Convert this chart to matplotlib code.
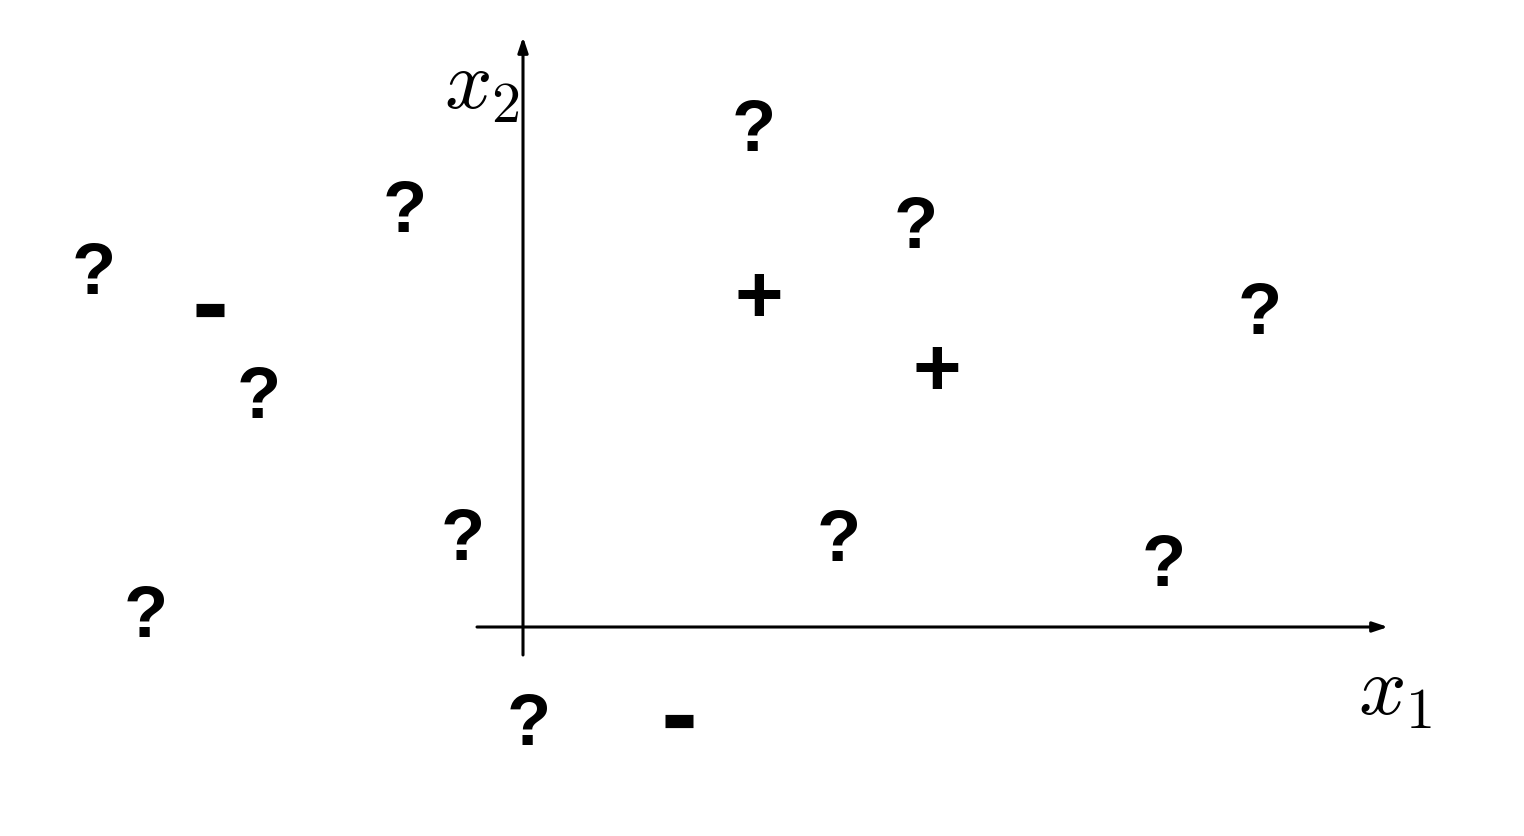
import matplotlib
matplotlib.use("Agg")
import matplotlib.pyplot as plt
from matplotlib.transforms import offset_copy

plt.rcParams['mathtext.fontset'] = 'cm'

# Unlabeled points (x1, x2), origin at axes intersection
q_x = [231, -118, 393, -429, 737, -264, -60, 316, 641, -377, 6]
q_y = [500, 419, 403, 357, 317, 233, 91, 90, 65, 14, -94]
# Positive examples
p_x = [236, 414]
p_y = [331, 258]
# Negative examples
n_x = [-313, 156]
n_y = [317, -94]

fig = plt.figure(figsize=(15.24, 8.36), dpi=100)
ax = fig.add_axes([0, 0, 1, 1])
ax.set_xlim(-523, 1524 - 523)
ax.set_ylim(627 - 836, 627)
ax.axis('off')

# axes arrows
ax.annotate('', xy=(865, 0), xytext=(-46, 0),
            arrowprops=dict(arrowstyle='-|>,head_length=0.9,head_width=0.3', lw=2.2, color='black',
                            shrinkA=0, shrinkB=0))
ax.annotate('', xy=(0, 590), xytext=(0, -28),
            arrowprops=dict(arrowstyle='-|>,head_length=0.9,head_width=0.3', lw=2.2, color='black',
                            shrinkA=0, shrinkB=0))
ax.text(-41, 542, r'$x_2$', fontsize=60, ha='center', va='center')
ax.text(872, -64, r'$x_1$', fontsize=60, ha='center', va='center')

fam = ['Liberation Sans', 'DejaVu Sans']
tr = offset_copy(ax.transData, fig=fig, x=0, y=-5, units='dots')
for x, y in zip(q_x, q_y):
    ax.text(x, y, '?', fontsize=52, fontweight='bold', family=fam, ha='center', va='center', transform=tr)
for x, y in zip(p_x, p_y):
    ax.text(x, y, '+', fontsize=60, fontweight='bold', family=fam, ha='center', va='center', transform=tr)
ax.plot(n_x, n_y, linestyle='none', marker='_', markersize=20.5, markeredgewidth=9.5, color='black')

fig.savefig('out.png', dpi=100, facecolor='white')
